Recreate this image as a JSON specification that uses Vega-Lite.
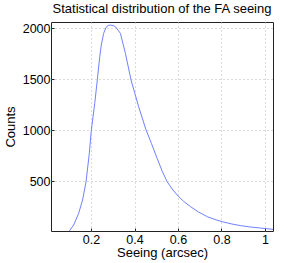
{
  "$schema": "https://vega.github.io/schema/vega-lite/v6.json",
  "autosize": "none",
  "width": 222,
  "height": 209,
  "padding": {"left": 51, "top": 22, "right": 27, "bottom": 32},
  "background": "white",
  "title": {"text": "Statistical distribution of the FA seeing", "font": "Liberation Sans", "fontSize": 13, "fontWeight": "normal", "color": "black", "offset": 6, "anchor": "middle"},
  "config": {
    "view": {"stroke": "#222", "strokeWidth": 1},
    "axis": {
      "labelFont": "Liberation Sans", "labelFontSize": 12.5, "labelColor": "black",
      "titleFont": "Liberation Sans", "titleFontSize": 13, "titleFontWeight": "normal", "titleColor": "black",
      "grid": true, "gridColor": "#b8b8b8", "gridDash": [1, 3], "gridWidth": 1,
      "domain": false, "ticks": true, "tickColor": "#222", "tickSize": -3
    }
  },
  "data": {"values": [
    {"x": 0.100, "c": 13},
    {"x": 0.120, "c": 72},
    {"x": 0.143, "c": 186},
    {"x": 0.161, "c": 317},
    {"x": 0.177, "c": 496},
    {"x": 0.192, "c": 775},
    {"x": 0.201, "c": 996},
    {"x": 0.217, "c": 1265},
    {"x": 0.229, "c": 1500},
    {"x": 0.240, "c": 1722},
    {"x": 0.247, "c": 1836},
    {"x": 0.258, "c": 1951},
    {"x": 0.269, "c": 2010},
    {"x": 0.279, "c": 2028},
    {"x": 0.289, "c": 2032},
    {"x": 0.304, "c": 2025},
    {"x": 0.312, "c": 2016},
    {"x": 0.335, "c": 1951},
    {"x": 0.358, "c": 1755},
    {"x": 0.384, "c": 1493},
    {"x": 0.419, "c": 1231},
    {"x": 0.452, "c": 1010},
    {"x": 0.478, "c": 870},
    {"x": 0.504, "c": 725},
    {"x": 0.527, "c": 600},
    {"x": 0.550, "c": 496},
    {"x": 0.573, "c": 425},
    {"x": 0.596, "c": 366},
    {"x": 0.625, "c": 305},
    {"x": 0.658, "c": 251},
    {"x": 0.695, "c": 198},
    {"x": 0.735, "c": 153},
    {"x": 0.770, "c": 126},
    {"x": 0.804, "c": 104},
    {"x": 0.845, "c": 83},
    {"x": 0.889, "c": 65},
    {"x": 0.935, "c": 52},
    {"x": 0.980, "c": 42},
    {"x": 1.037, "c": 29}
  ]},
  "mark": {"type": "line", "color": "#6f82ff", "strokeWidth": 1, "clip": true},
  "encoding": {
    "x": {"field": "x", "type": "quantitative", "title": "Seeing (arcsec)",
      "scale": {"domain": [0.0157, 1.037], "nice": false, "zero": false},
      "axis": {"values": [0.2, 0.4, 0.6, 0.8, 1], "labelExpr": "datum.value == 1 ? '1' : format(datum.value, '.1f')", "labelPadding": 5, "titlePadding": 1}},
    "y": {"field": "c", "type": "quantitative", "title": "Counts",
      "scale": {"domain": [13, 2062], "nice": false, "zero": false},
      "axis": {"values": [500, 1000, 1500, 2000], "format": "d", "labelPadding": 4, "titlePadding": 5}}
  }
}
